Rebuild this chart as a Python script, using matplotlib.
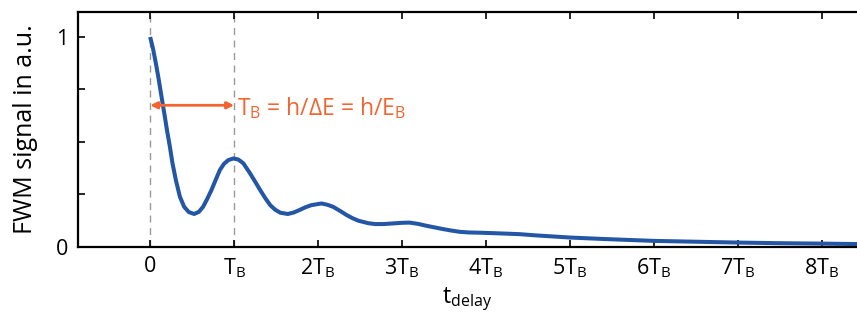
import matplotlib
matplotlib.use("Agg")
import matplotlib.pyplot as plt

plt.rcParams['font.family'] = ['Open Sans', 'DejaVu Sans']
plt.rcParams['mathtext.default'] = 'regular'

# FWM signal vs delay (delay in units of T_B)
t_delay = [0.0, 0.035, 0.068, 0.10, 0.135, 0.17, 0.20, 0.235, 0.266, 0.306, 0.354, 0.405,
           0.46, 0.524, 0.58, 0.63, 0.68, 0.73, 0.78, 0.83, 0.88, 0.93, 0.99,
           1.05, 1.11, 1.19, 1.25, 1.31, 1.37, 1.43, 1.49, 1.55, 1.64, 1.71, 1.78, 1.85,
           1.92, 2.04, 2.11, 2.18, 2.26, 2.34, 2.41, 2.48, 2.60, 2.68, 2.78, 2.89, 3.00,
           3.09, 3.19, 3.29, 3.39, 3.49, 3.59, 3.69, 3.80, 3.92, 4.14, 4.4, 4.6, 4.8, 5.0,
           5.4, 5.8, 6.0, 6.5, 7.0, 7.5, 8.0, 8.42]
signal = [0.998, 0.94, 0.872, 0.80, 0.714, 0.63, 0.555, 0.475, 0.397, 0.317, 0.238, 0.19,
          0.165, 0.156, 0.166, 0.19, 0.228, 0.27, 0.318, 0.365, 0.395, 0.412, 0.42,
          0.415, 0.397, 0.349, 0.31, 0.27, 0.232, 0.198, 0.176, 0.162, 0.156, 0.163, 0.175, 0.188,
          0.198, 0.206, 0.2, 0.19, 0.171, 0.151, 0.136, 0.124, 0.112, 0.108, 0.108, 0.111, 0.114,
          0.115, 0.109, 0.1, 0.092, 0.084, 0.077, 0.071, 0.068, 0.067, 0.064, 0.06, 0.054, 0.049, 0.044,
          0.037, 0.031, 0.028, 0.024, 0.02, 0.017, 0.015, 0.013]

xtick_pos = [0, 1, 2, 3, 4, 5, 6, 7, 8]
xtick_labels = ['0', 'T$_B$', '2T$_B$', '3T$_B$', '4T$_B$', '5T$_B$', '6T$_B$', '7T$_B$', '8T$_B$']
ytick_pos = [0, 0.25, 0.5, 0.75, 1]
ytick_labels = ['0', '', '', '', '1']

blue = '#2456a6'
orange = '#f26531'

fig = plt.figure(figsize=(8.57, 3.23), dpi=100)
ax = fig.add_axes([0.091, 0.236, 0.909, 0.727])

ax.plot(t_delay, signal, color=blue, lw=2.9, solid_joinstyle='round', solid_capstyle='butt')

# guide lines at 0 and T_B
for xv in [0, 1]:
    ax.axvline(xv, color='#999999', lw=1, ls=(0, (5, 4)), zorder=0)

# period arrow
ax.annotate('', xy=(1, 0.673), xytext=(0, 0.673),
            arrowprops=dict(arrowstyle='<|-|>', color=orange, lw=2,
                            mutation_scale=10, shrinkA=0, shrinkB=0))
ax.text(1.03, 0.66, r'T$_B$ = h/ΔE = h/E$_B$', color=orange, fontsize=16.5,
        va='center', ha='left')

ax.set_xlim(-0.86, 8.42)
ax.set_ylim(0, 1.117)
ax.set_xticks(xtick_pos)
ax.set_xticklabels(xtick_labels, fontsize=15.5)
ax.set_yticks(ytick_pos)
ax.set_yticklabels(ytick_labels, fontsize=15.5)

ax.tick_params(axis='x', direction='in', top=True, length=5, width=1.2, pad=7)
ax.tick_params(axis='y', direction='in', length=5, width=1.2, pad=7)
for s in ['left', 'bottom', 'top']:
    ax.spines[s].set_linewidth(1.6)
ax.spines['right'].set_visible(False)

ax.set_xlabel('t$_{delay}$', fontsize=16.5, labelpad=4)
ax.set_ylabel('FWM signal in a.u.', fontsize=18, labelpad=13)

fig.savefig('out.png', dpi=100)
